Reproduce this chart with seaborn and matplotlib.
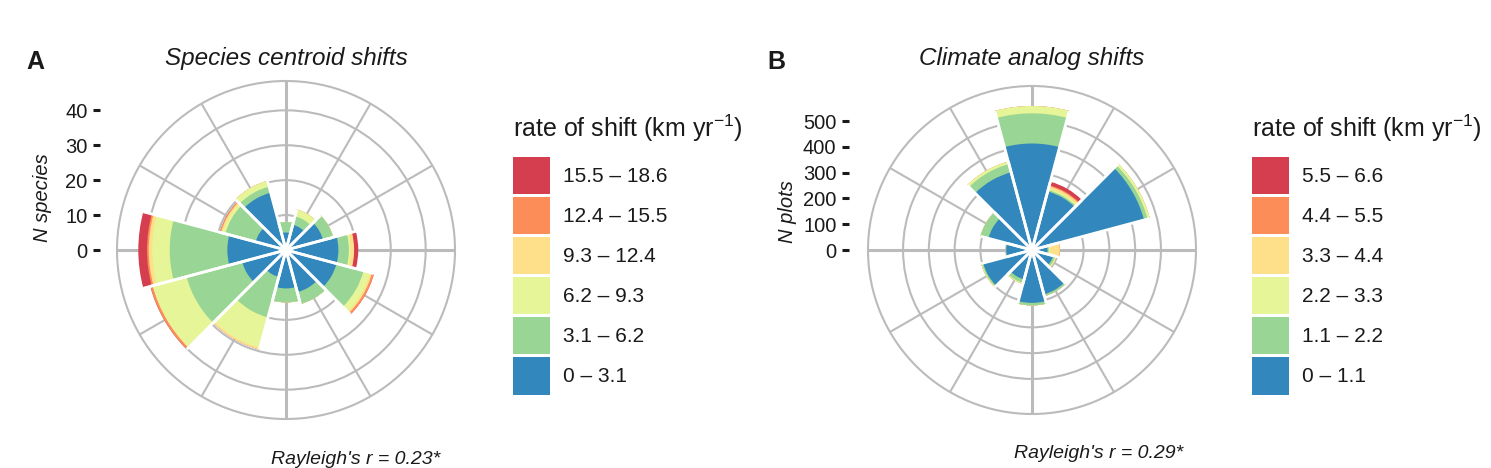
import numpy as np
import matplotlib
matplotlib.use("Agg")
import matplotlib.pyplot as plt
from matplotlib.patches import Patch
import seaborn as sns

# direction bins (degrees clockwise from north)
directions = [0, 30, 60, 90, 120, 150, 180, 210, 240, 270, 300, 330]

# A: number of species per direction, by rate class (km/yr)
rate_labels_a = ["0 – 3.1", "3.1 – 6.2", "6.2 – 9.3", "9.3 – 12.4", "12.4 – 15.5", "15.5 – 18.6"]
sp_r1 = [5, 7.5, 11, 15, 15, 12.5, 11, 8, 13, 16.8, 9, 17]
sp_r2 = [3, 2.5, 3, 3, 8, 3.5, 4, 12, 16.5, 16.5, 9, 1.8]
sp_r3 = [0, 2, 0, 0.5, 2, 0, 0, 9, 10, 5, 0.8, 1.7]
sp_r4 = [0, 0, 0, 1, 0.5, 0, 0, 0.5, 0, 1, 0.5, 0]
sp_r5 = [0, 0, 0, 0, 0.6, 0, 0, 0, 0.7, 0.5, 0.3, 0]
sp_r6 = [0, 0, 0, 1.2, 0, 0, 0, 0, 0, 2.5, 0, 0]

# B: number of plots per direction, by rate class (km/yr)
rate_labels_b = ["0 – 1.1", "1.1 – 2.2", "2.2 – 3.3", "3.3 – 4.4", "4.4 – 5.5", "5.5 – 6.6"]
pl_r1 = [413, 235, 450, 60, 85, 178, 205, 118, 196, 100, 175, 312]
pl_r2 = [117, 6, 14, 5, 8, 7, 10, 14, 5, 0, 32, 33]
pl_r3 = [28, 6, 9, 5, 5, 0, 0, 4, 3, 0, 0, 10]
pl_r4 = [0, 9, 0, 38, 0, 0, 0, 0, 0, 0, 0, 0]
pl_r5 = [0, 4, 0, 0, 0, 0, 0, 0, 0, 0, 0, 0]
pl_r6 = [0, 14, 0, 0, 0, 0, 0, 0, 0, 0, 0, 0]

colors = ["#3288BD", "#99D594", "#E6F598", "#FEE08B", "#FC8D59", "#D53E4F"]
grid_c = "#BBBBBB"
ink = "#1a1a1a"

sns.set_theme(style="white")
plt.rcParams["font.family"] = ["Liberation Sans", "DejaVu Sans"]
plt.rcParams["mathtext.fontset"] = "custom"
plt.rcParams["mathtext.rm"] = "Liberation Sans"
plt.rcParams["mathtext.it"] = "Liberation Sans:italic"

W, H = 1491, 468
fig = plt.figure(figsize=(W / 100, H / 100), dpi=100)


def box(x0, y0, w, h):
    return [x0 / W, 1 - (y0 + h) / H, w / W, h / H]


def rose(cx, cy, rad, stack, rmax, rings, tick_x, ylab, ylab_xy):
    ax = fig.add_axes(box(cx - rad, cy - rad, 2 * rad, 2 * rad), projection="polar")
    theta = np.deg2rad(directions)
    cum = np.cumsum(np.array(stack, dtype=float), axis=0)
    # stacked bars: draw cumulative totals from the top class down
    for k in range(len(cum) - 1, -1, -1):
        sns.barplot(x=theta, y=cum[k], native_scale=True, width=1, orient="x",
                    color=colors[k], saturation=1, linewidth=0, errorbar=None, ax=ax)
    half = np.deg2rad(15)
    tot = cum[-1]
    ax.vlines(np.r_[theta - half, theta + half], 0, np.r_[tot, tot],
              colors="white", lw=2, zorder=3)

    ax.set_theta_zero_location("N")
    ax.set_theta_direction(-1)
    ax.set_ylim(0, rmax)
    ax.set_xlabel("")
    ax.set_ylabel("")
    ax.set_xticks(np.deg2rad([0, 90, 180, 270]))
    ax.set_xticks(np.deg2rad([30, 60, 120, 150, 210, 240, 300, 330]), minor=True)
    ax.set_xticklabels([])
    ax.set_yticks(rings)
    ax.set_yticklabels([])
    ax.tick_params(length=0, which="both")
    ax.xaxis.grid(True, which="major", color=grid_c, lw=2.2)
    ax.xaxis.grid(True, which="minor", color=grid_c, lw=1.5)
    ax.yaxis.grid(True, color=grid_c, lw=1.5)
    ax.spines["polar"].set_color(grid_c)
    ax.spines["polar"].set_linewidth(1.5)
    ax.set_axisbelow(True)

    # radial scale shown as a plain axis on the left, like ggplot
    tax = fig.add_axes(box(tick_x, cy - rad, 1, 2 * rad))
    tax.set_ylim(-rmax, rmax)
    tax.set_xticks([])
    tax.set_yticks([0] + list(rings))
    tax.tick_params(axis="y", left=True, direction="out", length=5, width=2.2,
                    color=ink, pad=4, labelsize=14.5, labelcolor=ink)
    for sp in tax.spines.values():
        sp.set_visible(False)
    tax.patch.set_visible(False)
    fig.text(ylab_xy[0] / W, 1 - ylab_xy[1] / H, ylab, rotation=90, style="italic",
             fontsize=14.5, color=ink, ha="center", va="center")
    return ax


rose(286, 250, 169, [sp_r1, sp_r2, sp_r3, sp_r4, sp_r5, sp_r6], 48.4,
     [10, 20, 30, 40], 100, "N species", (42, 198))
rose(1032, 250, 164, [pl_r1, pl_r2, pl_r3, pl_r4, pl_r5, pl_r6], 636,
     [100, 200, 300, 400, 500], 849, "N plots", (787, 212))

# titles, panel letters, statistics
fig.text(286 / W, 1 - 58 / H, "Species centroid shifts", style="italic", fontsize=17.5,
         color=ink, ha="center", va="center")
fig.text(1032 / W, 1 - 58 / H, "Climate analog shifts", style="italic", fontsize=17.5,
         color=ink, ha="center", va="center")
fig.text(26 / W, 1 - 62 / H, "A", fontsize=18, fontweight="bold", color=ink, va="center")
fig.text(767 / W, 1 - 62 / H, "B", fontsize=18, fontweight="bold", color=ink, va="center")
fig.text(356 / W, 1 - 459 / H, "Rayleigh's r = 0.23*", style="italic", fontsize=14,
         color=ink, ha="center", va="center")
fig.text(1099 / W, 1 - 453 / H, "Rayleigh's r = 0.29*", style="italic", fontsize=14,
         color=ink, ha="center", va="center")

# legends
for x0, labels in [(513, rate_labels_a), (1252, rate_labels_b)]:
    fig.text(x0 / W, 1 - 128 / H, "rate of shift (km yr$^{-1}$)", fontsize=18,
             color=ink, ha="left", va="center")
    handles = [Patch(facecolor=c, edgecolor="none") for c in colors[::-1]]
    leg = fig.legend(handles, labels[::-1], loc="upper left",
                     bbox_to_anchor=(x0 / W, 1 - 157 / H), frameon=False,
                     fontsize=15, handlelength=1.78, handleheight=2.38,
                     labelspacing=0.13, handletextpad=0.62, borderpad=0,
                     borderaxespad=0)
    for t in leg.get_texts():
        t.set_color(ink)

fig.savefig("out.png", dpi=100)
